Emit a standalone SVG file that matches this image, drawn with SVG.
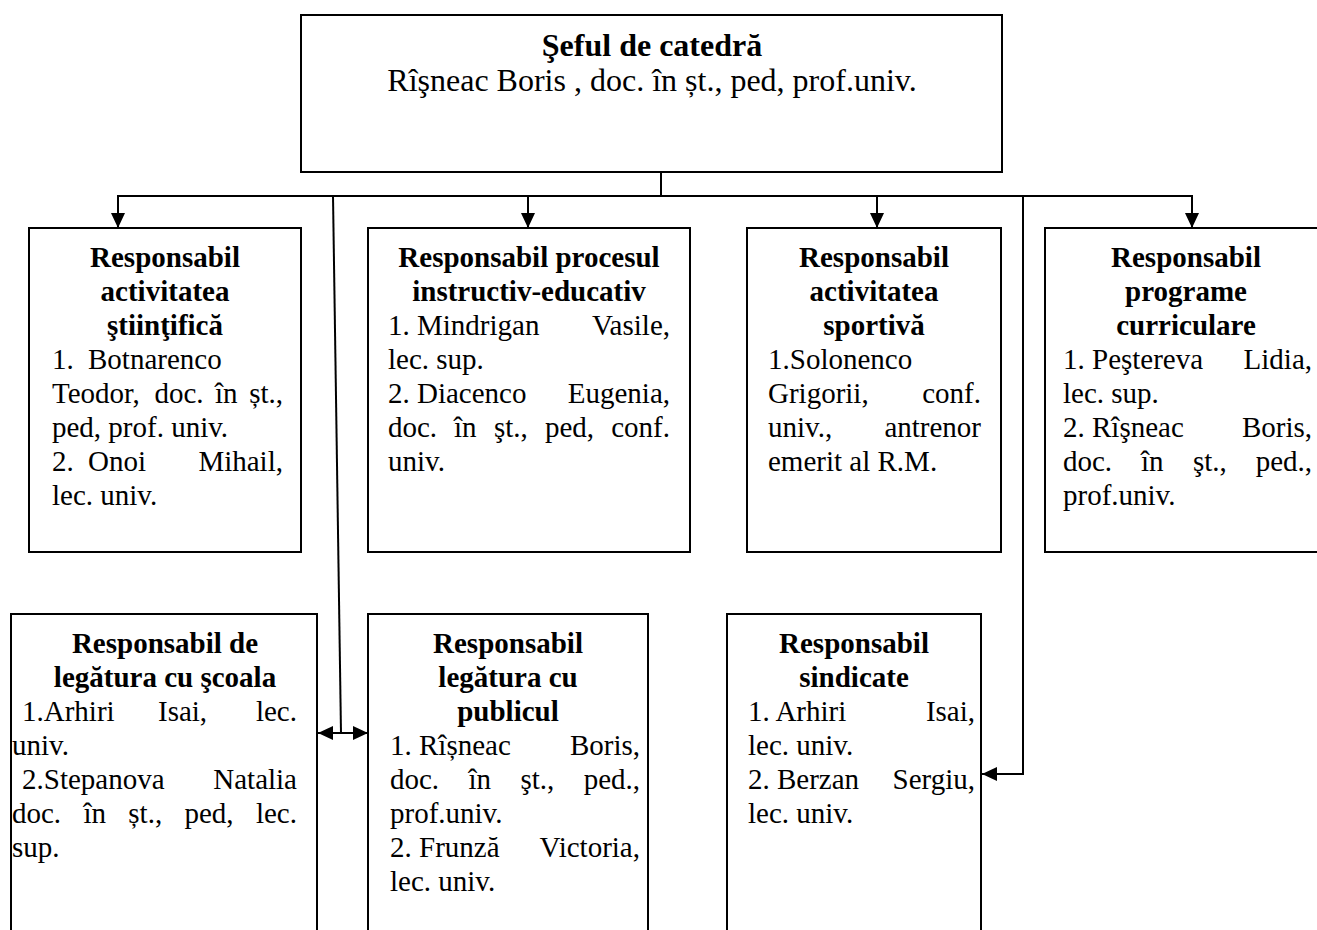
<svg xmlns="http://www.w3.org/2000/svg" width="1317" height="930" viewBox="0 0 1317 930">
<style>
.box{fill:#fff;stroke:#000;stroke-width:2}
.t{font-family:"Liberation Serif","Times New Roman",serif;font-size:29px;fill:#000}
.b{font-weight:bold;text-anchor:middle}
.e{text-anchor:end}
.big{font-size:32px}
.c{fill:none;stroke:#000;stroke-width:2}
</style>
<defs>
<marker id="ah" markerUnits="userSpaceOnUse" markerWidth="16" markerHeight="14" refX="15" refY="7" orient="auto-start-reverse">
<path d="M0,0 L15,7 L0,14 z" fill="#000"/>
</marker>
</defs>
<g id="connectors">
<line class="c" x1="661" y1="172" x2="661" y2="196"/>
<line class="c" x1="117" y1="196" x2="1193" y2="196"/>
<line class="c" x1="118" y1="196" x2="118" y2="228" marker-end="url(#ah)"/>
<line class="c" x1="528" y1="196" x2="528" y2="228" marker-end="url(#ah)"/>
<line class="c" x1="877" y1="196" x2="877" y2="228" marker-end="url(#ah)"/>
<line class="c" x1="1192" y1="196" x2="1192" y2="228" marker-end="url(#ah)"/>
<line class="c" x1="333" y1="196" x2="341" y2="733" stroke-width="1.6"/>
<line class="c" x1="318" y1="733" x2="368" y2="733" marker-start="url(#ah)" marker-end="url(#ah)"/>
<polyline class="c" points="1023,196 1023,774 982,774" marker-end="url(#ah)"/>
</g>
<g id="sef">
<rect class="box" x="301" y="15" width="701" height="157"/>
<text class="t b big" x="652" y="56">Şeful de catedră</text>
<text class="t big" x="652" y="91" text-anchor="middle">Rîşneac Boris , doc. în șt., ped, prof.univ.</text>
</g>
<g id="stiintifica">
<rect class="box" x="29" y="228" width="272" height="324"/>
<text class="t b" x="165" y="267">Responsabil</text>
<text class="t b" x="165" y="301">activitatea</text>
<text class="t b" x="165" y="335">ştiinţifică</text>
<text class="t" y="369"><tspan x="52">1.</tspan><tspan x="88">Botnarenco</tspan></text>
<text class="t" y="403"><tspan x="52">Teodor,</tspan><tspan x="154.5">doc.</tspan><tspan x="215">în</tspan></text>
<text class="t e" x="283" y="403">șt.,</text>
<text class="t" x="52" y="437">ped, prof. univ.</text>
<text class="t" y="471"><tspan x="52">2.</tspan><tspan x="88">Onoi</tspan></text>
<text class="t e" x="283" y="471">Mihail,</text>
<text class="t" x="52" y="505">lec. univ.</text>
</g>
<g id="instructiv">
<rect class="box" x="368" y="228" width="322" height="324"/>
<text class="t b" x="529" y="267">Responsabil procesul</text>
<text class="t b" x="529" y="301">instructiv-educativ</text>
<text class="t" x="388" y="335">1. Mindrigan</text>
<text class="t e" x="670" y="335">Vasile,</text>
<text class="t" x="388" y="369">lec. sup.</text>
<text class="t" x="388" y="403">2. Diacenco</text>
<text class="t e" x="670" y="403">Eugenia,</text>
<text class="t" y="437"><tspan x="388">doc.</tspan><tspan x="454">în</tspan><tspan x="494">şt.,</tspan><tspan x="545">ped,</tspan></text>
<text class="t e" x="670" y="437">conf.</text>
<text class="t" x="388" y="471">univ.</text>
</g>
<g id="sportiva">
<rect class="box" x="747" y="228" width="254" height="324"/>
<text class="t b" x="874" y="267">Responsabil</text>
<text class="t b" x="874" y="301">activitatea</text>
<text class="t b" x="874" y="335">sportivă</text>
<text class="t" x="768" y="369">1.Solonenco</text>
<text class="t" x="768" y="403">Grigorii,</text>
<text class="t e" x="981" y="403">conf.</text>
<text class="t" x="768" y="437">univ.,</text>
<text class="t e" x="981" y="437">antrenor</text>
<text class="t" x="768" y="471">emerit al R.M.</text>
</g>
<g id="programe">
<rect class="box" x="1045" y="228" width="290" height="324"/>
<text class="t b" x="1186" y="267">Responsabil</text>
<text class="t b" x="1186" y="301">programe</text>
<text class="t b" x="1186" y="335">curriculare</text>
<text class="t" y="369"><tspan x="1063">1.</tspan><tspan x="1092">Peştereva</tspan></text>
<text class="t e" x="1312" y="369">Lidia,</text>
<text class="t" x="1063" y="403">lec. sup.</text>
<text class="t" y="437"><tspan x="1063">2.</tspan><tspan x="1092">Rîşneac</tspan></text>
<text class="t e" x="1312" y="437">Boris,</text>
<text class="t" y="471"><tspan x="1063">doc.</tspan><tspan x="1141">în</tspan><tspan x="1193">şt.,</tspan></text>
<text class="t e" x="1312" y="471">ped.,</text>
<text class="t" x="1063" y="505">prof.univ.</text>
</g>
<g id="scoala">
<rect class="box" x="11" y="614" width="306" height="330"/>
<text class="t b" x="165" y="653">Responsabil de</text>
<text class="t b" x="165" y="687">legătura cu şcoala</text>
<text class="t" y="721"><tspan x="22">1.Arhiri</tspan><tspan x="158">Isai,</tspan></text>
<text class="t e" x="297" y="721">lec.</text>
<text class="t" x="12" y="755">univ.</text>
<text class="t" x="22" y="789">2.Stepanova</text>
<text class="t e" x="297" y="789">Natalia</text>
<text class="t" y="823"><tspan x="12">doc.</tspan><tspan x="83.4">în</tspan><tspan x="128.3">șt.,</tspan><tspan x="184.4">ped,</tspan></text>
<text class="t e" x="297" y="823">lec.</text>
<text class="t" x="12" y="857">sup.</text>
</g>
<g id="publicul">
<rect class="box" x="368" y="614" width="280" height="330"/>
<text class="t b" x="508" y="653">Responsabil</text>
<text class="t b" x="508" y="687">legătura cu</text>
<text class="t b" x="508" y="721">publicul</text>
<text class="t" x="390" y="755">1. Rîșneac</text>
<text class="t e" x="640" y="755">Boris,</text>
<text class="t" y="789"><tspan x="390">doc.</tspan><tspan x="468.5">în</tspan><tspan x="520.5">şt.,</tspan></text>
<text class="t e" x="640" y="789">ped.,</text>
<text class="t" x="390" y="823">prof.univ.</text>
<text class="t" x="390" y="857">2. Frunză</text>
<text class="t e" x="640" y="857">Victoria,</text>
<text class="t" x="390" y="891">lec. univ.</text>
</g>
<g id="sindicate">
<rect class="box" x="727" y="614" width="254" height="330"/>
<text class="t b" x="854" y="653">Responsabil</text>
<text class="t b" x="854" y="687">sindicate</text>
<text class="t" x="748" y="721">1. Arhiri</text>
<text class="t e" x="975" y="721">Isai,</text>
<text class="t" x="748" y="755">lec. univ.</text>
<text class="t" x="748" y="789">2. Berzan</text>
<text class="t e" x="975" y="789">Sergiu,</text>
<text class="t" x="748" y="823">lec. univ.</text>
</g>
</svg>
